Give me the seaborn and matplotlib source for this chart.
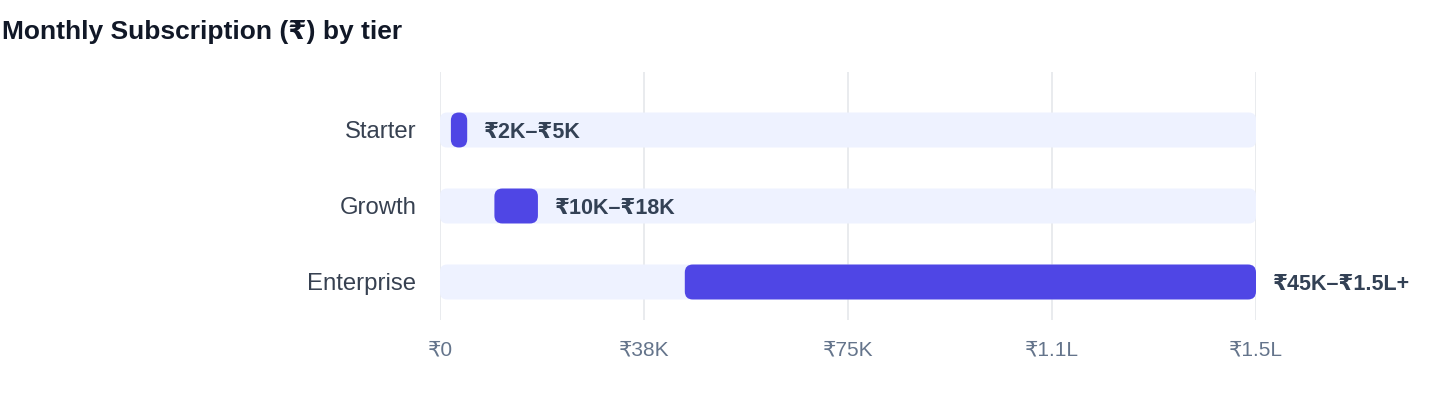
import matplotlib
matplotlib.use("Agg")
import matplotlib.pyplot as plt
from matplotlib.patches import FancyBboxPatch
import seaborn as sns
import pandas as pd

tiers = ["Starter", "Growth", "Enterprise"]
price_low = [2000, 10000, 45000]
price_high = [5000, 18000, 150000]
range_labels = ["₹2K–₹5K", "₹10K–₹18K", "₹45K–₹1.5L+"]
axis_max = 150000
tick_values = [0, 37500, 75000, 112500, 150000]
tick_labels = ["₹0", "₹38K", "₹75K", "₹1.1L", "₹1.5L"]

BAR = "#4F46E5"
TRACK = "#EEF2FF"

sns.set_theme(style="white")
plt.rcParams["font.family"] = ["Liberation Sans", "DejaVu Sans"]

df = pd.DataFrame({"tier": tiers, "low": price_low, "high": price_high,
                   "label": range_labels})
df["width"] = df["high"] - df["low"]
df["track"] = axis_max

fig = plt.figure(figsize=(14.4, 4.08), dpi=100)
ax = fig.add_axes([440 / 1440, 1 - 320 / 408, 816 / 1440, 248 / 408])

# background tracks and range bars
sns.barplot(data=df, x="track", y="tier", color=TRACK, width=0.46,
            saturation=1, ax=ax, zorder=2)
ax.barh(df["tier"], df["width"], left=df["low"], height=0.46, color=BAR, zorder=3)

ax.set_xlim(0, axis_max)
ax.set_ylim(2.5, -0.763)

# swap square bars for rounded ones
fig.canvas.draw()
x_per_px = axis_max / 816
y_per_px = 3.263 / 248
for p in list(ax.patches):
    x0, y0, w, h = p.get_x(), p.get_y(), p.get_width(), p.get_height()
    fc = p.get_facecolor()
    z = p.get_zorder()
    w_px = w / x_per_px
    r_px = min(7 if z == 2 else 8, w_px / 2)
    p.remove()
    ax.add_patch(FancyBboxPatch((x0, y0), w, h,
                                boxstyle=f"round,pad=0,rounding_size={r_px * x_per_px}",
                                mutation_aspect=y_per_px / x_per_px,
                                facecolor=fc, edgecolor="none", zorder=z))

for i, row in df.iterrows():
    ax.annotate(row["label"], xy=(row["high"], i), xytext=(17, 0),
                textcoords="offset pixels", va="center_baseline", ha="left",
                fontsize=15.5, fontweight="bold", color="#334155",
                annotation_clip=False)

ax.set_xticks(tick_values)
ax.set_xticklabels(tick_labels)
ax.xaxis.grid(True, color="#E5E7EB", linewidth=1.2, zorder=0)
ax.set_axisbelow(True)
ax.tick_params(axis="x", length=0, pad=14.5, labelsize=15, labelcolor="#64748B")
ax.tick_params(axis="y", length=0, pad=17, labelsize=17.2, labelcolor="#374151")
ax.set_xlabel("")
ax.set_ylabel("")
for s in ax.spines.values():
    s.set_visible(False)

fig.text(0.0015, 1 - 32 / 408, "Monthly Subscription (₹) by tier", fontsize=19,
         fontweight="bold", color="#111827", ha="left", va="center")

fig.savefig("out.png", dpi=100)
